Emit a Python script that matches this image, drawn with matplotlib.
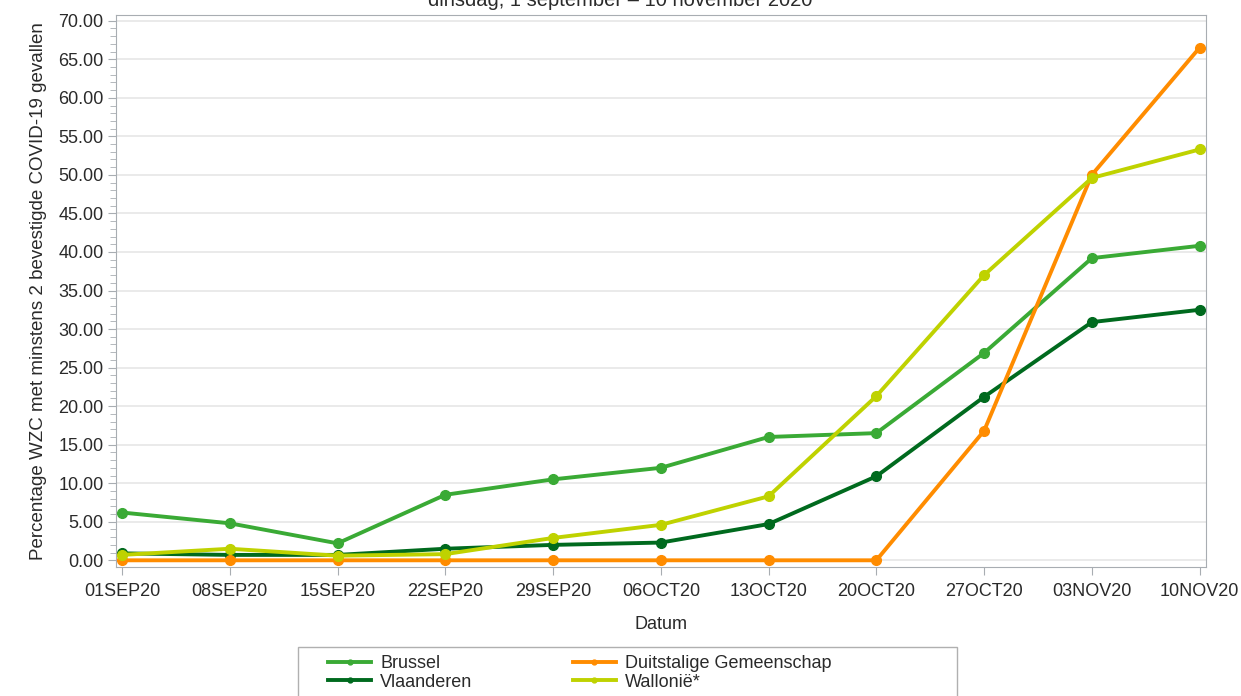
import matplotlib
matplotlib.use('Agg')
import matplotlib.pyplot as plt
from matplotlib.patches import Rectangle
from matplotlib.ticker import MultipleLocator, FormatStrFormatter

plt.rcParams['font.family'] = ['Liberation Sans', 'DejaVu Sans']

# data
dates = ['01SEP20', '08SEP20', '15SEP20', '22SEP20', '29SEP20', '06OCT20',
         '13OCT20', '20OCT20', '27OCT20', '03NOV20', '10NOV20']
brussel = [6.2, 4.8, 2.2, 8.5, 10.5, 12.0, 16.0, 16.5, 26.9, 39.2, 40.8]
vlaanderen = [0.9, 0.7, 0.7, 1.5, 2.0, 2.3, 4.7, 10.9, 21.2, 30.9, 32.5]
duitstalig = [0.0, 0.0, 0.0, 0.0, 0.0, 0.0, 0.0, 0.0, 16.8, 50.0, 66.5]
wallonie = [0.7, 1.5, 0.6, 0.8, 2.9, 4.6, 8.3, 21.3, 37.0, 49.6, 53.3]

series = [
    ('Brussel', brussel, '#3aaa35'),
    ('Vlaanderen', vlaanderen, '#006a1e'),
    ('Duitstalige Gemeenschap', duitstalig, '#ff8c00'),
    ('Wallonië*', wallonie, '#bfd200'),
]

txt = '#2a2a2a'

fig = plt.figure(figsize=(12.41, 6.96), dpi=100)
ax = fig.add_axes([0.0935, 0.185, 0.878, 0.793])

x = list(range(len(dates)))
handles = []
for name, vals, col in series:
    h, = ax.plot(x, vals, color=col, lw=2.8, marker='o', ms=7,
                 label=name, solid_joinstyle='round', zorder=3)
    handles.append(h)

ax.set_xlim(-0.056, 10.056)
ax.set_ylim(-0.9, 70.7)
ax.set_xticks(x)
ax.set_xticklabels(dates)
ax.yaxis.set_major_locator(MultipleLocator(5))
ax.yaxis.set_minor_locator(MultipleLocator(1))
ax.yaxis.set_major_formatter(FormatStrFormatter('%.2f'))
ax.grid(axis='y', color='#e6e6e6', lw=1.2, zorder=0)
ax.set_axisbelow(True)

for s in ax.spines.values():
    s.set_color('#a8adb2')
ax.tick_params(axis='both', which='major', colors='#a8adb2', labelcolor=txt,
               labelsize=13, length=6)
ax.tick_params(axis='y', which='minor', colors='#a8adb2', length=4)
ax.tick_params(axis='x', pad=5)
ax.tick_params(axis='y', pad=3)

ax.set_xlabel('Datum', fontsize=13, color=txt, labelpad=12)
ax.set_ylabel('Percentage WZC met minstens 2 bevestigde COVID-19 gevallen',
              fontsize=13.5, color=txt, labelpad=8)

fig.text(0.5, 1 - 6 / 696, 'dinsdag, 1 september \u2013 10 november 2020',
         ha='center', va='baseline', fontsize=14.5, color=txt)

# legend box, drawn separately so it can be wider than its entries
fig.patches.append(Rectangle((298 / 1241, -0.01), 659 / 1241, 0.01 + 49 / 696,
                             transform=fig.transFigure, facecolor='white',
                             edgecolor='#b0b0b0', lw=1.0, zorder=1))
leg = fig.legend(handles=handles, loc='upper left', ncol=2,
                 bbox_to_anchor=(328 / 1241, 1 - 655 / 696),
                 frameon=False, fontsize=13,
                 handlelength=2.4, handletextpad=0.5, borderpad=0,
                 labelspacing=0.1, columnspacing=5.55, markerscale=0.5,
                 borderaxespad=0)
leg.set_zorder(2)
for t in leg.get_texts():
    t.set_color(txt)

fig.savefig('out.png', dpi=100)
